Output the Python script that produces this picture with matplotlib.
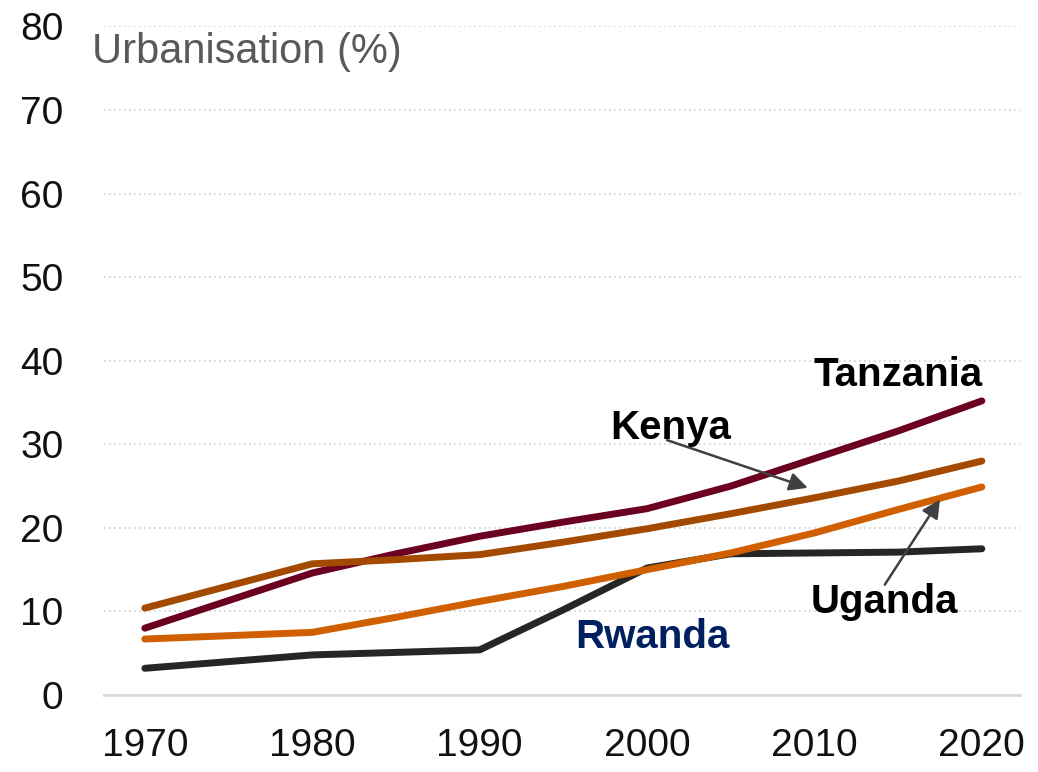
import matplotlib
matplotlib.use("Agg")
import matplotlib.pyplot as plt

plt.rcParams['font.family'] = ['Liberation Sans', 'DejaVu Sans']

# Urbanisation (%) by country
years = [1970, 1980, 1985, 1990, 1995, 2000, 2005, 2010, 2015, 2020]
tanzania = [8.0, 14.6, 16.9, 19.0, 20.7, 22.3, 25.0, 28.3, 31.6, 35.2]
kenya = [10.4, 15.7, 16.2, 16.8, 18.3, 19.9, 21.7, 23.6, 25.6, 28.0]
uganda = [6.7, 7.5, 9.3, 11.2, 13.0, 15.0, 17.0, 19.4, 22.2, 24.9]
rwanda = [3.2, 4.8, 5.1, 5.4, 10.2, 15.2, 16.9, 17.0, 17.1, 17.5]

xticks = [1970, 1980, 1990, 2000, 2010, 2020]
yticks = [0, 10, 20, 30, 40, 50, 60, 70, 80]

fig = plt.figure(figsize=(10.38, 7.72), dpi=100)
ax = fig.add_axes([0.100, 0.0997, 0.883, 0.866])

lw = 5.0
ax.plot(years, tanzania, color='#6B0020', lw=lw, solid_capstyle='round', solid_joinstyle='round', zorder=3)
ax.plot(years, kenya, color='#A34A00', lw=lw, solid_capstyle='round', solid_joinstyle='round', zorder=4)
ax.plot(years, rwanda, color='#262626', lw=lw, solid_capstyle='round', solid_joinstyle='round', zorder=3)
ax.plot(years, uganda, color='#D05F00', lw=lw, solid_capstyle='round', solid_joinstyle='round', zorder=5)

ax.set_xlim(1967.55, 2022.3)
ax.set_ylim(0, 80)
ax.set_xticks(xticks)
ax.set_yticks(yticks)
ax.tick_params(axis='both', length=0, labelsize=28, colors='#111111')
ax.tick_params(axis='y', pad=29)
ax.tick_params(axis='x', pad=24)

# gridlines
ax.grid(axis='y', linestyle=(0, (1, 2)), color='#d0d0d0', lw=1.2)
ax.grid(axis='x', visible=False)
for s in ['top', 'right', 'left']:
    ax.spines[s].set_visible(False)
ax.spines['bottom'].set_color('#d9d9d9')
ax.spines['bottom'].set_linewidth(2)
ax.spines['bottom'].set_zorder(1)
ax.set_axisbelow(True)

fig.text(92 / 1038, (772 - 63) / 772, 'Urbanisation (%)', fontsize=30,
         color='#595959', ha='left', va='baseline')

# labels
ax.text(2015.0, 37.0, 'Tanzania', fontsize=29, fontweight='bold', color='black',
        ha='center', va='baseline')
ax.text(2001.4, 30.6, 'Kenya', fontsize=29, fontweight='bold', color='black',
        ha='center', va='baseline')
ax.text(2014.2, 9.8, 'Uganda', fontsize=29, fontweight='bold', color='black',
        ha='center', va='baseline')
ax.text(2000.3, 5.6, 'Rwanda', fontsize=29, fontweight='bold', color='#002060',
        ha='center', va='baseline')

arrow = dict(arrowstyle='-|>,head_length=1.1,head_width=0.55', color='#404040', lw=1.8,
             shrinkA=0, shrinkB=0)
ax.annotate('', xy=(2009.6, 24.8), xytext=(2001.2, 30.5), arrowprops=arrow, zorder=6)
ax.annotate('', xy=(2017.5, 23.4), xytext=(2014.2, 13.2), arrowprops=arrow, zorder=6)

fig.savefig('out.png', dpi=100)
